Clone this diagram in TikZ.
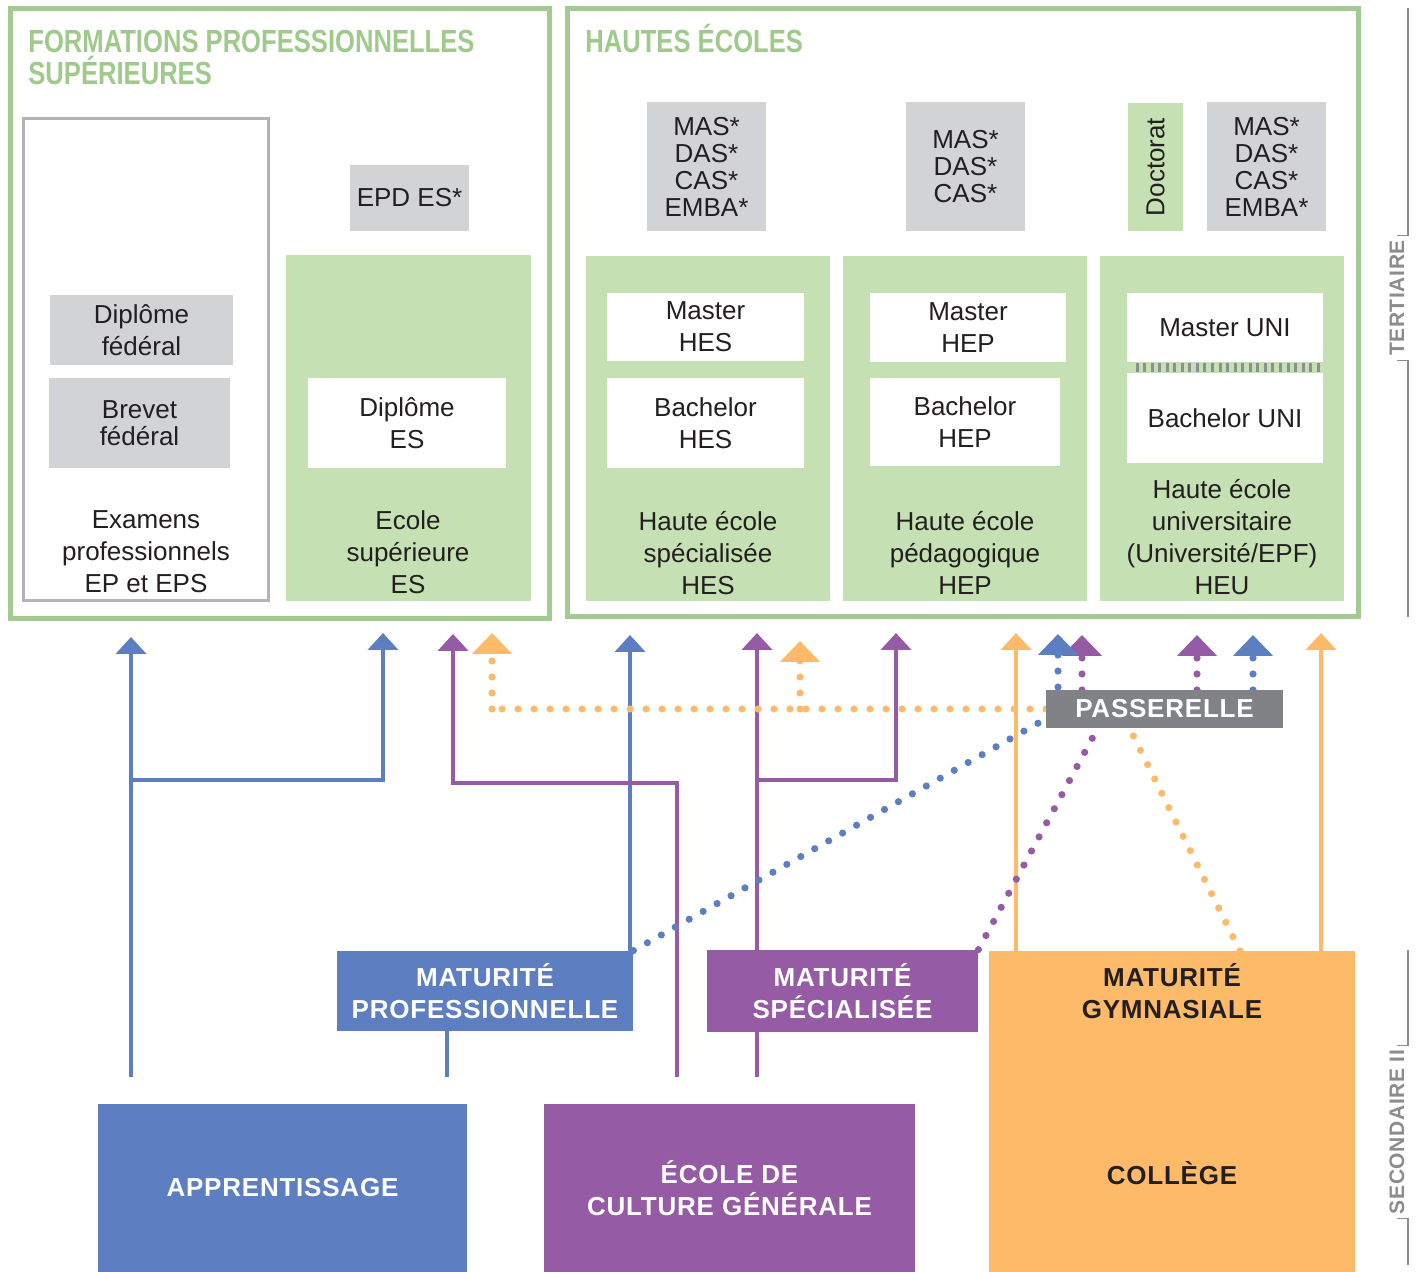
\documentclass[tikz,border=0pt]{standalone}
\usepackage{fontspec}
\setmainfont{Liberation Sans}
\newfontfamily\titlefont[FakeStretch=0.8]{Liberation Sans}
\newfontfamily\capfont[LetterSpace=3]{Liberation Sans}
\usetikzlibrary{arrows.meta}
\definecolor{frgreen}{HTML}{A3CB91}
\definecolor{fillgreen}{HTML}{C5E1B3}
\definecolor{titlegreen}{HTML}{9FCA8C}
\definecolor{boxgrey}{HTML}{D1D3D4}
\definecolor{linegrey}{HTML}{B1B3B6}
\definecolor{hatchgrey}{HTML}{8D8F92}
\definecolor{pblue}{HTML}{5D7FC1}
\definecolor{ppurple}{HTML}{965BA5}
\definecolor{porange}{HTML}{FDBA68}
\definecolor{passgrey}{HTML}{808285}
\definecolor{levelgrey}{HTML}{8C8C8F}
\definecolor{ink}{HTML}{231F20}
\begin{document}
\begin{tikzpicture}[x=0.5pt,y=-0.5pt,
  font=\fontsize{13pt}{16pt}\selectfont, text=ink,
  corners/.style args={#1/#2/#3/#4}{inner sep=0pt,
    minimum width={(#3-#1)*0.5pt}, minimum height={(#4-#2)*0.5pt},
    at={({(#1+#3)/2},{(#2+#4)/2})}},
  frame/.style={draw=frgreen,line width=2.5pt},
  zone/.style={fill=fillgreen},
  diploma/.style={fill=white,align=center},
  further/.style={fill=boxgrey,align=center,font=\fontsize{13pt}{13.5pt}\selectfont},
  lowtext/.style={align=center},
  heading/.style={text=titlegreen,anchor=base west,align=left,inner sep=0pt,font=\titlefont\bfseries\fontsize{16pt}{16.5pt}\selectfont},
  school/.style={align=center,text=white,font=\capfont\bfseries\fontsize{13pt}{16pt}\selectfont},
  stage/.style={rotate=90,inner sep=2pt,text=levelgrey,font=\capfont\bfseries\fontsize{10.5pt}{10.5pt}\selectfont},
  marker/.style={draw=levelgrey,line width=0.8pt},
  way/.style={line width=2.3pt,-{Triangle[width=15pt,length=8.5pt]}},
  bridge/.style={line width=3.6pt,line cap=round,dash pattern=on 0pt off 8pt,-{Triangle[width=19.5pt,length=10.5pt]}}]
\useasboundingbox (0,0) rectangle (1421,1272);

\node[frame,corners=10/9/549/619] (fps) {};
\node[frame,corners=567/9/1358/617] (he) {};
\node[heading] (fpstitle) at (28,53) {FORMATIONS PROFESSIONNELLES};
\node[heading] (fpstitle2) at (28,85) {SUPÉRIEURES};
\node[heading] (hetitle) at (585,53) {HAUTES ÉCOLES};

\node[corners=23/119/268/601,draw=linegrey,line width=1.5pt,fill=white] (ep) {};
\node[further,corners=50/295/233/365,font=\fontsize{13pt}{16pt}\selectfont] (dipfed) {Diplôme\\fédéral};
\node[further,corners=49/378/230/468] (brevet) {Brevet\\fédéral};
\node[lowtext] (eptext) at (146,552) {Examens\\professionnels\\EP et EPS};

\node[zone,corners=286/255/531/601] (es) {};
\node[further,corners=350/165/469/231] (epd) {EPD ES*};
\node[diploma,corners=308/378/506/468] (dipes) {Diplôme\\ES};
\node[lowtext] (estext) at (408,552) {Ecole\\supérieure\\ES};

\node[further,corners=647/102/766/231] (mas1) {MAS*\\DAS*\\CAS*\\EMBA*};
\node[further,corners=906/102/1025/231] (mas2) {MAS*\\DAS*\\CAS*};
\node[zone,corners=1128/103/1183/231] (doc) {};
\node[rotate=90] (doctext) at (doc.center) {Doctorat};
\node[further,corners=1207/102/1326/231] (mas3) {MAS*\\DAS*\\CAS*\\EMBA*};

\node[zone,corners=586/256/830/601] (hes) {};
\node[zone,corners=843/256/1087/601] (hep) {};
\node[zone,corners=1100/256/1344/601] (heu) {};
\node[diploma,corners=607/293/804/361] (mhes) {Master\\HES};
\node[diploma,corners=607/378/804/468] (bhes) {Bachelor\\HES};
\node[diploma,corners=870/293/1066/362] (mhep) {Master\\HEP};
\node[diploma,corners=870/378/1060/466] (bhep) {Bachelor\\HEP};
\node[diploma,corners=1127/293/1323/362] (muni) {Master UNI};
\node[diploma,corners=1127/373/1323/463] (buni) {Bachelor UNI};
\foreach \i in {0,...,24}
  \draw[hatchgrey,line width=1.5pt] (1137+\i*7.55,363) -- (1137+\i*7.55,372);
\node[lowtext] (hestext) at (708,553) {Haute école\\spécialisée\\HES};
\node[lowtext] (heptext) at (965,553) {Haute école\\pédagogique\\HEP};
\node[lowtext] (heutext) at (1222,537) {Haute école\\universitaire\\(Université/EPF)\\HEU};

\node[stage] (ter) at (1397,298) {TERTIAIRE};
\draw[marker] (1408,8) |- (ter.east);
\draw[marker] (ter.west) -| (1408,617);
\node[stage] (sec) at (1397,1132) {SECONDAIRE II};
\draw[marker] (1408,950) |- (sec.east);
\draw[marker] (sec.west) -| (1408,1265);

\coordinate (sApp) at (131,1077);
\coordinate (sMP) at (447,1077);
\coordinate (sECG1) at (677,1077);
\coordinate (sECG2) at (757,1077);
\coordinate (jApp) at (131,780);
\coordinate (jECG1) at (453,783);
\coordinate (jECG2) at (757,780);
\coordinate (tEP) at (131,637);
\coordinate (tES1) at (383,633);
\coordinate (tES2) at (453,634);
\coordinate (tHES1) at (630,635);
\coordinate (tHES2) at (757,633);
\coordinate (tHEP1) at (896,633);
\coordinate (tHEP2) at (1016,633);
\coordinate (tHEU) at (1321,633);
\coordinate (dES) at (492,633);
\coordinate (dHES) at (800,641);
\coordinate (dHEP1) at (1058,634);
\coordinate (dHEP2) at (1082,635);
\coordinate (dHEU1) at (1197,635);
\coordinate (dHEU2) at (1253,635);
\coordinate (pWest) at (1046,709);
\coordinate (pTop) at (1046,690);
\coordinate (pPur) at (1108,709);
\coordinate (pBlue) at (1058,712);
\coordinate (sGym) at (1240,951);
\coordinate (pOra) at (1120,709);

\node[school,fill=pblue,corners=337/951/633/1031] (mp) {MATURITÉ\\PROFESSIONNELLE};
\node[school,fill=ppurple,corners=707/950/978/1032] (ms) {MATURITÉ\\SPÉCIALISÉE};
\node[school,fill=porange,corners=989/951/1355/1272] (gym) {};

\draw[way,pblue] (sApp) -- (tEP);
\draw[way,pblue] (jApp) -| (tES1);
\draw[pblue,line width=2.3pt] (mp.south -| sMP) -- (sMP);
\draw[way,pblue] (mp.north -| tHES1) -- (tHES1);
\draw[way,ppurple] (sECG1) |- (jECG1) -- (tES2);
\draw[ppurple,line width=2.3pt] (sECG2) -- (ms.south -| sECG2);
\draw[way,ppurple] (ms.north -| sECG2) -- (tHES2);
\draw[way,ppurple] (jECG2) -| (tHEP1);
\draw[way,porange] (gym.north -| tHEP2) -- (tHEP2);
\draw[way,porange] (gym.north -| tHEU) -- (tHEU);

\draw[bridge,porange,-] (sGym) -- (pOra);
\draw[bridge,porange] (pWest -| dES) -- (dES);
\draw[bridge,porange,-] (pWest) -- (pWest -| dES);
\draw[bridge,porange] (pWest -| dHES) -- (dHES);
\draw[bridge,ppurple,-] (ms.north east) -- (pPur);
\draw[bridge,ppurple] (pTop -| dHEP2) -- (dHEP2);
\draw[bridge,ppurple] (pTop -| dHEU1) -- (dHEU1);
\draw[bridge,pblue] (mp.north east) -- (pBlue) -- (dHEP1);
\draw[bridge,pblue] (pTop -| dHEU2) -- (dHEU2);

\node[school,fill=passgrey,corners=1046/690/1283/728] (pass) {PASSERELLE};

\node[school,text=ink] (mg) at (1172,991) {MATURITÉ\\GYMNASIALE};
\node[school,text=ink] (col) at (1172,1173) {COLLÈGE};
\node[school,fill=pblue,corners=98/1104/467/1272] (app) {APPRENTISSAGE};
\node[school,fill=ppurple,corners=544/1104/915/1272] (ecg) {ÉCOLE DE\\CULTURE GÉNÉRALE};
\end{tikzpicture}
\end{document}
